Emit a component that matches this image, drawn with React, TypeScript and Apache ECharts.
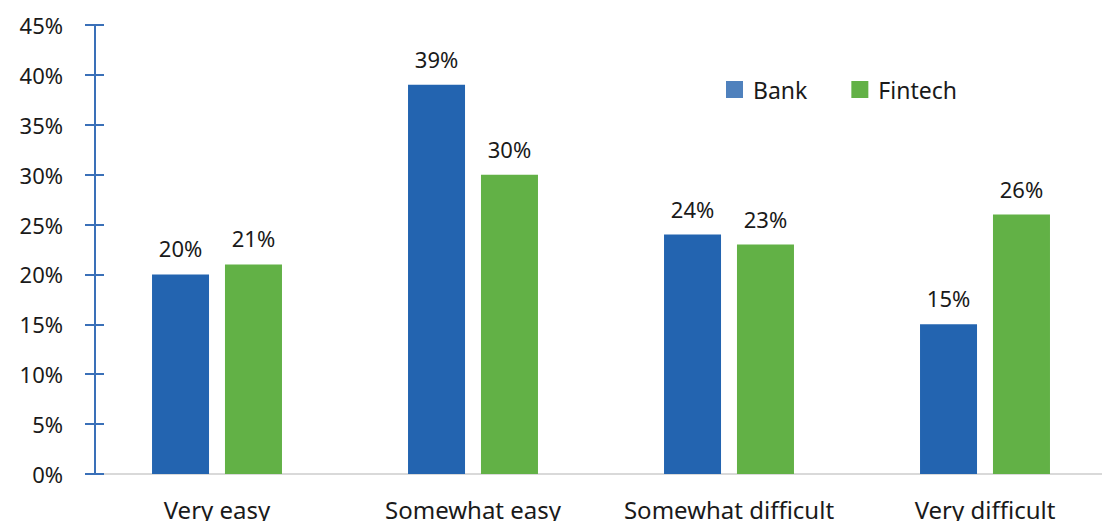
import React, { useEffect, useRef } from "react";
import * as echarts from "echarts";

const categories = ["Very easy", "Somewhat easy", "Somewhat difficult", "Very difficult"];
const bankValues = [20, 39, 24, 15];
const fintechValues = [21, 30, 23, 26];
const seriesNames = ["Bank", "Fintech"];

const FONT = "'Noto Sans', 'Open Sans', sans-serif";

export default function App() {
  const ref = useRef<HTMLDivElement>(null);
  useEffect(() => {
    if (!ref.current) return;
    const chart = echarts.init(ref.current, null, { renderer: "svg" });
    const labelStyle = {
      show: true,
      position: "top" as const,
      distance: 15,
      formatter: (p: any) => `${p.value}%`,
      color: "#1a1a1a",
      fontSize: 22,
      fontFamily: FONT,
    };
    chart.setOption({
      animation: false,
      backgroundColor: "#ffffff",
      textStyle: { fontFamily: FONT },
      grid: { left: 89, right: 7, top: 25, bottom: 45, containLabel: false },
      legend: {
        left: 721,
        top: 73,
        itemWidth: 17,
        itemHeight: 17,
        itemGap: 44,
        icon: "rect",
        textStyle: { fontSize: 23, color: "#1a1a1a", fontFamily: FONT, padding: [0, 0, 0, 5] },
        data: [
          { name: seriesNames[0], itemStyle: { color: "#4f81bd" } },
          { name: seriesNames[1], itemStyle: { color: "#62b146" } },
        ],
      },
      xAxis: {
        type: "category",
        data: categories,
        axisLine: { show: true, lineStyle: { color: "#d9d9d9", width: 2 } },
        axisTick: { show: false },
        axisLabel: { interval: 0, fontSize: 24, color: "#1a1a1a", margin: 23, fontFamily: FONT },
      },
      yAxis: [
        {
          type: "value",
          min: 0,
          max: 45,
          interval: 5,
          offset: -6,
          axisLine: { show: true, lineStyle: { color: "#3a70b8", width: 2 } },
          axisTick: { show: true, length: 10, lineStyle: { color: "#3a70b8", width: 2 } },
          axisLabel: { formatter: "{value}%", fontSize: 22, color: "#1a1a1a", margin: 32, fontFamily: FONT },
          splitLine: { show: false },
        },
        {
          type: "value",
          position: "left",
          min: 0,
          max: 45,
          interval: 5,
          offset: -6,
          axisLine: { show: false },
          axisTick: { show: true, inside: true, length: 9, lineStyle: { color: "#3a70b8", width: 2 } },
          axisLabel: { show: false },
          splitLine: { show: false },
        },
      ],
      series: [
        {
          name: seriesNames[0],
          type: "bar",
          data: bankValues,
          barWidth: 57,
          barGap: "28%",
          itemStyle: { color: "#2364b0" },
          label: labelStyle,
        },
        {
          name: seriesNames[1],
          type: "bar",
          data: fintechValues,
          barWidth: 57,
          barGap: "28%",
          itemStyle: { color: "#62b146" },
          label: labelStyle,
        },
      ],
    });
    return () => chart.dispose();
  }, []);
  return (
    <div
      style={{ position: "absolute", left: 0, top: 0, width: 1102, height: 521, overflow: "hidden", background: "#fff" }}
    >
      <div ref={ref} style={{ width: 1120, height: 521 }} />
    </div>
  );
}
